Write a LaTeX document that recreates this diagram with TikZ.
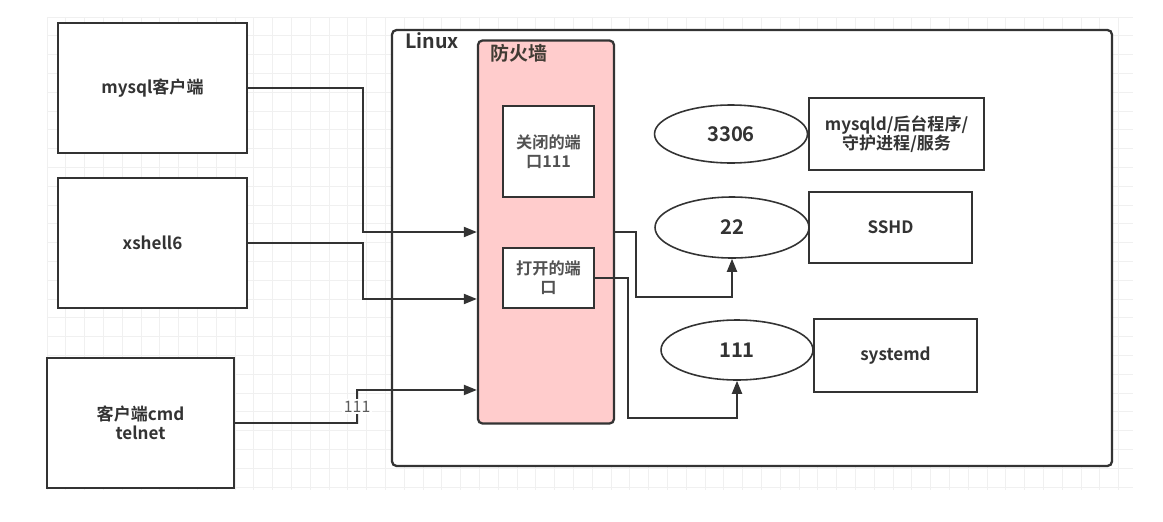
\documentclass[tikz,border=0pt]{standalone}
\usepackage{fontspec}
\setmainfont{Noto Sans CJK SC}[BoldFont={Noto Sans CJK SC Bold}]
\usetikzlibrary{arrows.meta,shapes.geometric}
\definecolor{ink}{HTML}{333333}
\definecolor{wallpink}{HTML}{FFCCCC}

\begin{document}
\begin{tikzpicture}[x=0.02cm,y=-0.02cm,
  font=\fontsize{9.7}{11}\selectfont\bfseries,
  client/.style={draw=ink,fill=white,line width=1.3pt,text=ink,align=center,
    minimum width=3.78cm,minimum height=2.6cm,inner sep=0pt},
  host/.style={draw=ink,fill=white,line width=1.3pt,rounded corners=2.5pt,
    minimum width=14.4cm,minimum height=8.72cm,inner sep=0pt},
  wall/.style={draw=ink,fill=wallpink,line width=1.3pt,rounded corners=2.5pt,
    minimum width=2.72cm,minimum height=7.66cm,inner sep=0pt},
  gate/.style={draw=ink,fill=white,line width=1.1pt,text=ink!85,align=center,
    minimum width=1.82cm,inner sep=0pt,font=\fontsize{9.2}{10.8}\selectfont\bfseries},
  port/.style={ellipse,draw=ink,fill=white,line width=0.9pt,text=ink,inner sep=0pt,
    font=\fontsize{11.5}{13}\selectfont\bfseries},
  daemon/.style={draw=ink,fill=white,line width=1.1pt,text=ink,align=center,
    minimum width=3.26cm,inner sep=0pt},
  flow/.style={-{Triangle[length=2.6mm,width=2mm]},line width=1.1pt,draw=ink},
  edgelabel/.style={fill=white,text=ink!80,inner sep=1pt,
    font=\fontsize{9}{10}\selectfont}]
\useasboundingbox (0,0) rectangle (1163,521);
% background grid
\foreach \k in {0,...,57}
  \draw[black!6,line width=0.4pt] (47+\k*18.8,17) -- (47+\k*18.8,490);
\foreach \k in {0,...,25}
  \draw[black!6,line width=0.4pt] (47,17+\k*18.8) -- (1133,17+\k*18.8);
% clients
\node[client] (mysql) at (152.5,88) {mysql客户端};
\node[client] (xshell) at (152.5,243) {xshell6};
\node[client,minimum width=3.74cm] (cmd) at (140.5,423) {客户端cmd\\telnet};
% linux host and firewall
\node[host] (linux) at (752,248) {};
\node[anchor=base west,inner sep=0pt,text=ink,font=\fontsize{11.2}{13}\selectfont\bfseries]
  (linuxname) at (405,48) {Linux};
\node[wall] (firewall) at (546,232) {};
\node[anchor=base west,inner sep=0pt,text=ink!90!brown,font=\fontsize{10.8}{12}\selectfont\bfseries]
  (wallname) at (490,60) {防火墙};
\node[gate,minimum height=1.82cm] (closed) at (548.5,151.5) {关闭的端\\口111};
\node[gate,minimum height=1.2cm] (open) at (548.5,278) {打开的端\\口};
% ports and services
\node[port,minimum width=3.06cm,minimum height=1.16cm] (p3306) at (731,134) {3306};
\node[port,minimum width=3.08cm,minimum height=1.22cm] (p22) at (732,227.5) {22};
\node[port,minimum width=3.04cm,minimum height=1.2cm] (p111) at (737,350) {111};
\node[daemon,minimum width=3.5cm,minimum height=1.44cm] (mysqld) at (896.5,134)
  {mysqld/后台程序/\\守护进程/服务};
\node[daemon,minimum height=1.42cm] (sshd) at (890.5,227.5) {SSHD};
\node[daemon,minimum height=1.46cm] (systemd) at (895.5,355.5) {systemd};
% connections
\draw[flow] (mysql.east) -- ++(115,0) |- (firewall.west);
\draw[flow] (xshell.east) -- ++(115,0) |- ([yshift=-1.34cm]firewall.west);
\draw[flow] (cmd.east) -- ++(122,0) -- node[edgelabel]{111} ++(0,-33)
  -- ([yshift=-3.16cm]firewall.west);
\draw[flow] (firewall.east) -- ++(21,0) -- ++(0,65) -| (p22.south);
\draw[flow] (open.east) -- ++(33,0) -- ++(0,140) -| (p111.south);
\end{tikzpicture}
\end{document}
